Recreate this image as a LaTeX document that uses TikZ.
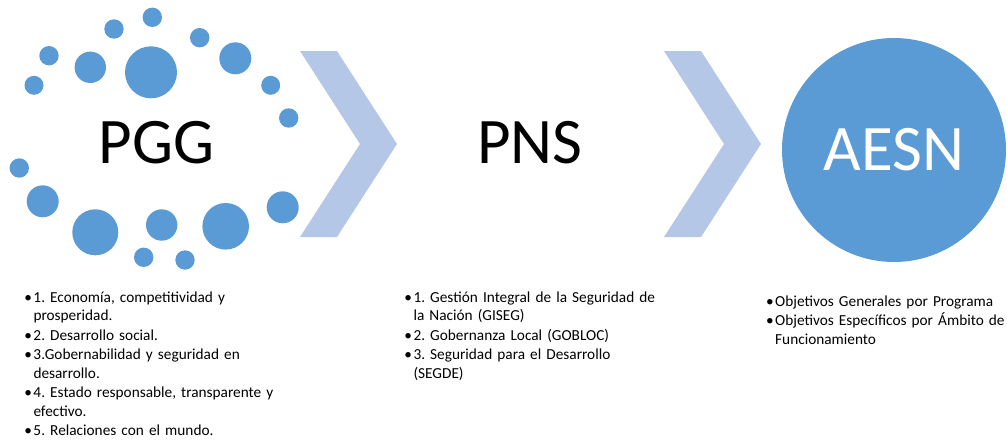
\documentclass[tikz,border=0pt]{standalone}
\usepackage{fontspec}
\setmainfont{Carlito}
\definecolor{dotblue}{HTML}{5B9BD5}
\definecolor{chev}{HTML}{B4C7E7}
\newcommand{\bul}{\leavevmode\llap{•\hspace{1.5pt}}}
\frenchspacing
\begin{document}
\begin{tikzpicture}[x=1pt,y=-1pt,
  dot/.style={fill=dotblue, draw=none},
  chevron/.style={fill=chev, draw=none},
  bigtext/.style={font=\fontsize{65}{78}\selectfont, inner sep=0, anchor=base},
  listtext/.style={font=\fontsize{15.3}{18.6}\selectfont\frenchspacing, inner sep=0, text width=#1, align=left, anchor=base west},
]
\useasboundingbox (0,0) rectangle (1007,442);
% decorative dots around PGG
\foreach \x/\y/\r in {152.3/17.3/9.7, 114/29/9.7, 199.7/37.7/9.7, 49/55.7/9.7,
  90.3/67.3/15.7, 151/72.3/26, 235.3/58.3/16, 34/85.3/9.5, 270.7/85.3/9.5,
  288.7/118/9.7, 19.3/168/9.7, 42.7/201.3/16, 95.3/232.3/23, 161.7/225/15.7,
  225.7/226.3/23.3, 282.7/207.3/16, 143.7/257.3/9.7, 185/260/9.7}
  \fill[dot] (\x,\y) circle (\r pt);
% chevrons
\fill[chevron] (300,51) -- (337,51) -- (397,144) -- (337,237) -- (300,237) -- (360,144) -- cycle;
\fill[chevron] (664,51) -- (701,51) -- (761,144) -- (701,237) -- (664,237) -- (724,144) -- cycle;
% main labels
\node[bigtext] (pgg) at (156.5,163.3) {PGG};
\node[bigtext] (pns) at (530,163) {PNS};
\node[circle, fill=dotblue, draw=none, minimum size=224pt, inner sep=0, text=white,
  font=\fontsize{65}{78}\selectfont] (aesn) at (894,150) {AESN};
% lists
\node[listtext=300pt] (pgglist) at (33.3,302.3) {\bul 1. Economía, competitividad y\\prosperidad.\\[0.8pt]\bul 2. Desarrollo social.\\[0.8pt]\bul 3.Gobernabilidad y seguridad en\\desarrollo.\\[0.8pt]\bul 4. Estado responsable, transparente y\\efectivo.\\[0.8pt]\bul 5. Relaciones con el mundo.};
\node[listtext=300pt] (pnslist) at (413.3,302.3) {\bul 1. Gestión Integral de la Seguridad de\\la Nación (GISEG)\\[0.8pt]\bul 2. Gobernanza Local (GOBLOC)\\[0.8pt]\bul 3. Seguridad para el Desarrollo\\(SEGDE)};
\node[listtext=260pt] (aesnlist) at (775,306) {\bul Objetivos Generales por Programa\\[0.8pt]\bul Objetivos Específicos por Ámbito de\\Funcionamiento};
\end{tikzpicture}
\end{document}
